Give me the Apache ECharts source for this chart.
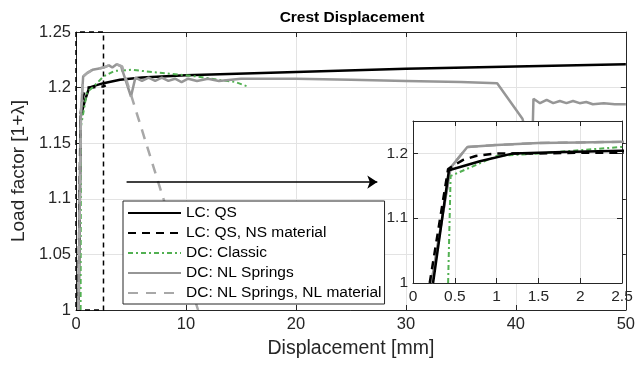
<!DOCTYPE html>
<html>
<head>
<meta charset="utf-8">
<script src="https://cdn.jsdelivr.net/npm/echarts@6/dist/echarts.min.js"></script>
<style>
  html, body { margin: 0; padding: 0; background: #fff; }
  #chart { width: 638px; height: 366px; }
</style>
</head>
<body>
<div id="chart"></div>
<script>
// data: [displacement mm, load factor]
const lcQs = [[0.24, 1.0], [0.43, 1.174], [0.8, 1.188], [1.2, 1.2], [1.8, 1.202], [2.5, 1.204],
  [4, 1.207], [6, 1.209], [10, 1.211], [20, 1.214], [30, 1.217], [40, 1.219], [50, 1.221]];
const lcQsNs = [[0.2, 1.0], [0.42, 1.176], [0.6, 1.19], [0.75, 1.196], [1.0, 1.2], [1.5, 1.2],
  [2.0, 1.201], [2.5, 1.201], [2.7, 1.202]];
const dcClassic = [[0.42, 1.0], [0.45, 1.165], [0.5, 1.168], [1.0, 1.196], [1.5, 1.2], [2.0, 1.205],
  [2.5, 1.21], [3.5, 1.215], [5, 1.216], [7, 1.214], [9, 1.212], [11, 1.21], [13, 1.207],
  [14.5, 1.205], [15.6, 1.201]];
const dcNl = [[0.22, 1.0], [0.45, 1.178], [0.65, 1.21], [1.0, 1.213], [1.5, 1.216], [2.0, 1.217],
  [2.5, 1.218], [3.0, 1.22], [3.3, 1.218], [3.7, 1.221], [4.1, 1.219], [5.0, 1.192], [5.4, 1.209],
  [6.0, 1.206], [6.6, 1.209], [7.2, 1.206], [7.8, 1.209], [8.4, 1.206], [9.0, 1.208], [9.6, 1.205],
  [10.2, 1.208], [11, 1.206], [12, 1.208], [13, 1.206], [15, 1.208], [20, 1.208], [25, 1.207],
  [30, 1.206], [35, 1.205], [38.3, 1.204], [40.6, 1.172], [41.2, 1.15], [41.5, 1.15], [41.6, 1.19],
  [42.2, 1.186], [42.8, 1.189], [43.4, 1.186], [44.0, 1.188], [44.6, 1.186], [45.2, 1.188],
  [45.8, 1.186], [46.4, 1.187], [47, 1.185], [48, 1.186], [49, 1.185], [50, 1.185]];
const dcNlNl = [[0.22, 1.0], [0.45, 1.178], [0.65, 1.21], [1.0, 1.213], [1.5, 1.216], [2.0, 1.217],
  [2.5, 1.218], [3.0, 1.22], [3.7, 1.221], [4.2, 1.219], [11.1, 1.0]];

const names = ["LC: QS", "LC: QS, NS material", "DC: Classic", "DC: NL Springs", "DC: NL Springs, NL material"];
const zoomX = [0, 2.5];
const zoomY = [1, 1.25];
const arrowFrom = [4.6, 1.115];
const arrowTo = [27.4, 1.115];

const styles = [
  { color: "#000000", width: 2.5, type: "solid" },
  { color: "#000000", width: 2.5, type: [8, 6] },
  { color: "#52b052", width: 2, type: [5, 3, 2, 3] },
  { color: "#969696", width: 2.5, type: "solid" },
  { color: "#a8a8a8", width: 2.5, type: [10, 8] }
];
const allData = [lcQs, lcQsNs, dcClassic, dcNl, dcNlNl];

const font = "Liberation Sans, Arial, sans-serif";
const axisCol = "#262626";

function makeX(grid, min, max, interval, pos, showLabel, size) {
  return {
    type: "value", gridIndex: grid, min: min, max: max, interval: interval, position: pos,
    z: grid === 1 ? 4 : 0,
    axisLine: { show: true, onZero: false, lineStyle: { color: axisCol, width: 1 } },
    axisTick: { show: true, inside: true, length: 5, lineStyle: { color: axisCol } },
    axisLabel: { show: showLabel, color: axisCol, fontSize: size, fontFamily: font, margin: 6 },
    splitLine: { show: pos === "bottom", lineStyle: { color: "#e3e3e3", width: 1 } }
  };
}
function makeY(grid, min, max, interval, pos, showLabel, size) {
  return {
    type: "value", gridIndex: grid, min: min, max: max, interval: interval, position: pos,
    z: grid === 1 ? 4 : 0,
    axisLine: { show: true, onZero: false, lineStyle: { color: axisCol, width: 1 } },
    axisTick: { show: true, inside: true, length: 5, lineStyle: { color: axisCol } },
    axisLabel: { show: showLabel, color: axisCol, fontSize: size, fontFamily: font, margin: 5,
      showMaxLabel: grid === 0 },
    splitLine: { show: pos === "left", lineStyle: { color: "#e3e3e3", width: 1 } }
  };
}

const xMain = makeX(0, 0, 50, 10, "bottom", true, 16.5);
xMain.name = "Displacement [mm]";
xMain.nameLocation = "middle";
xMain.nameGap = 29;
xMain.nameTextStyle = { color: axisCol, fontSize: 19.5, fontFamily: font };
const yMain = makeY(0, 1, 1.25, 0.05, "left", true, 16.5);
yMain.name = "Load factor [1+\u03bb]";
yMain.nameLocation = "middle";
yMain.nameGap = 46;
yMain.nameTextStyle = { color: axisCol, fontSize: 19, fontFamily: font };

const series = [];
allData.forEach((d, i) => {
  series.push({
    name: names[i], type: "line", xAxisIndex: 0, yAxisIndex: 0, data: d,
    symbol: "none", clip: true, z: 2,
    lineStyle: styles[i], itemStyle: { color: styles[i].color }
  });
});
series[0].markArea = {
  silent: true,
  itemStyle: { color: "rgba(0,0,0,0)", borderColor: "#000", borderWidth: 1.5, borderType: [5, 4] },
  data: [[{ coord: [zoomX[0], zoomY[0]] }, { coord: [zoomX[1], zoomY[1]] }]]
};
series[0].markLine = {
  silent: true, symbol: ["none", "arrow"], symbolSize: 10,
  label: { show: false },
  lineStyle: { color: "#000", width: 1.5, type: "solid" },
  itemStyle: { color: "#000" },
  data: [[{ coord: arrowFrom }, { coord: arrowTo }]]
};
// inset copies
allData.slice().reverse().forEach((d, k) => {
  const i = allData.length - 1 - k;
  series.push({
    name: names[i], type: "line", xAxisIndex: 2, yAxisIndex: 2, data: d,
    symbol: "none", clip: true, z: 4,
    lineStyle: styles[i], itemStyle: { color: styles[i].color }
  });
});

const chart = echarts.init(document.getElementById("chart"));
chart.setOption({
  animation: false,
  backgroundColor: "#fff",
  title: {
    text: "Crest Displacement", left: 347, top: 5, textAlign: "center",
    textStyle: { fontSize: 15.5, fontWeight: "bold", color: "#000", fontFamily: font }
  },
  grid: [
    { left: 76, right: 9, top: 32, bottom: 56 },
    { left: 413, right: 16, top: 121, bottom: 83, show: true, backgroundColor: "#fff",
      borderWidth: 0, z: 3 }
  ],
  xAxis: [
    xMain,
    makeX(0, 0, 50, 10, "top", false, 16),
    makeX(1, zoomX[0], zoomX[1], 0.5, "bottom", true, 15.5),
    makeX(1, zoomX[0], zoomX[1], 0.5, "top", false, 15)
  ],
  yAxis: [
    yMain,
    makeY(0, 1, 1.25, 0.05, "right", false, 16),
    makeY(1, zoomY[0], zoomY[1], 0.1, "left", true, 15.5),
    makeY(1, zoomY[0], zoomY[1], 0.1, "right", false, 15)
  ],
  legend: {
    data: names, orient: "vertical", left: 123, top: 201,
    padding: [4, 3, 3, 4], itemGap: 4, itemWidth: 53, itemHeight: 15,
    itemStyle: { opacity: 0, borderWidth: 0 },
    backgroundColor: "#fff", borderColor: axisCol, borderWidth: 1,
    textStyle: { fontSize: 15.5, color: "#000", fontFamily: font }
  },
  series: series
});
</script>
</body>
</html>
